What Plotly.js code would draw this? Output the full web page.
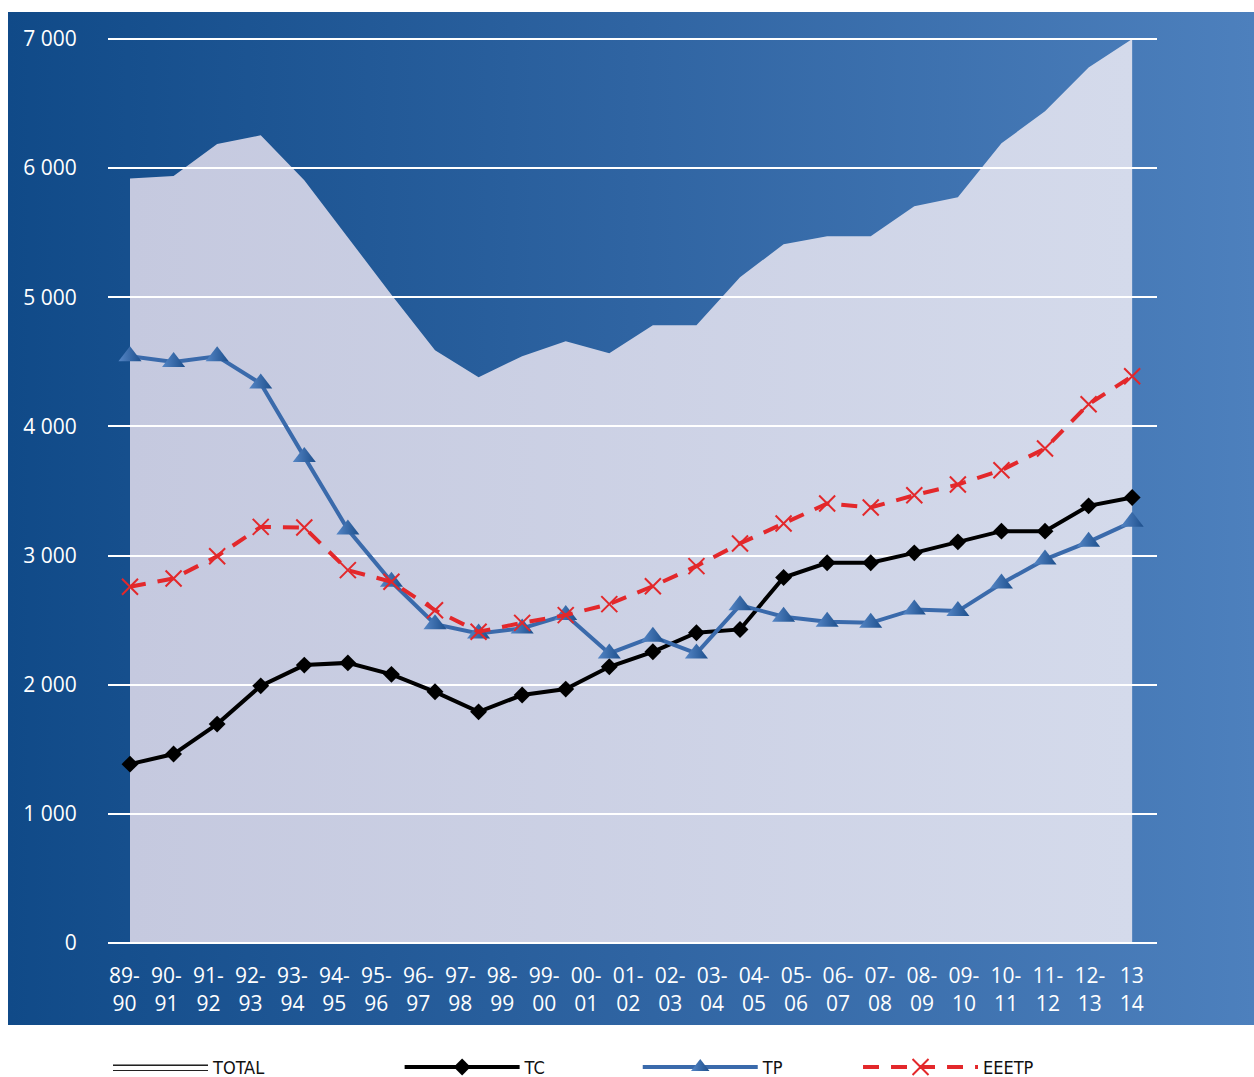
<!DOCTYPE html>
<html>
<head>
<meta charset="utf-8">
<script src="https://cdn.plot.ly/plotly-3.0.1.min.js"></script>
<style>
html,body{margin:0;padding:0;background:#ffffff;}
#bg{position:absolute;left:8px;top:12px;width:1246px;height:1013px;
  background:linear-gradient(to right,#104a88 0%,#2f64a2 50%,#4d80bd 100%);}
#chart{position:absolute;left:0;top:0;width:1254px;height:1077px;}
</style>
</head>
<body>
<div id="bg"></div>
<div id="chart"></div>
<script>
// Category (school year) tick labels
const yearLabels = ['89-<br>90','90-<br>91','91-<br>92','92-<br>93','93-<br>94','94-<br>95','95-<br>96',
  '96-<br>97','97-<br>98','98-<br>99','99-<br>00','00-<br>01','01-<br>02','02-<br>03','03-<br>04',
  '04-<br>05','05-<br>06','06-<br>07','07-<br>08','08-<br>09','09-<br>10','10-<br>11','11-<br>12',
  '12-<br>13','13<br>14'];

// Series values
const total = [5919, 5939, 6187, 6254, 5906, 5465, 5020, 4590, 4381, 4543, 4659, 4567,
  4783, 4783, 5155, 5410, 5472, 5472, 5704, 5774, 6192, 6440, 6780, 7000];
const tc = [1385, 1463, 1695, 1991, 2152, 2169, 2080, 1945, 1790, 1920, 1966, 2139,
  2255, 2402, 2428, 2830, 2944, 2944, 3021, 3106, 3189, 3189, 3385, 3450];
const tp = [4543, 4499, 4543, 4332, 3764, 3202, 2797, 2469, 2397, 2436, 2539, 2242,
  2371, 2242, 2616, 2526, 2487, 2479, 2583, 2570, 2784, 2970, 3106, 3261];
const eeetp = [2758, 2823, 2995, 3222, 3217, 2887, 2797, 2577, 2410, 2479, 2539, 2624,
  2763, 2918, 3094, 3248, 3403, 3372, 3467, 3550, 3661, 3829, 4172, 4389];

const seriesNames = ['TOTAL', 'TC', 'TP', 'EEETP'];

const idx = total.map((_, i) => i);
const labelIdx = yearLabels.map((_, i) => i);

const traces = [
  {
    type: 'scatter', x: idx, y: total, mode: 'lines', fill: 'tozeroy',
    line: {width: 0, color: 'rgba(0,0,0,0)'},
    fillcolor: '#cbd0e4',
    fillgradient: {type: 'horizontal', colorscale: [[0, '#c5c9df'], [1, '#d4daeb']]},
    showlegend: false, xaxis: 'x', yaxis: 'y', hoverinfo: 'skip'
  },
  {
    // carrier for the category label axis (no visible marks)
    type: 'scatter', x: labelIdx, y: labelIdx.map(() => null), mode: 'markers',
    marker: {opacity: 0}, showlegend: false, xaxis: 'x3', yaxis: 'y2', hoverinfo: 'skip'
  },
  {
    // legend entry for TOTAL: outlined white box
    type: 'scatter', x: [null], y: [null], name: seriesNames[0], mode: 'lines', fill: 'toself',
    fillcolor: '#ffffff',
    fillgradient: {type: 'vertical', start: 0, stop: 1,
      colorscale: [[0, '#222222'], [0.17, '#222222'], [0.2, '#ffffff'], [0.8, '#ffffff'], [0.83, '#222222'], [1, '#222222']]},
    line: {color: '#222222', width: 1},
    xaxis: 'x2', yaxis: 'y2', legend: 'legend'
  },
  {
    type: 'scatter', x: idx, y: tc, name: seriesNames[1], mode: 'lines+markers',
    line: {color: '#000000', width: 4},
    marker: {symbol: 'diamond', size: 13, color: '#000000'},
    xaxis: 'x2', yaxis: 'y2', legend: 'legend2'
  },
  {
    type: 'scatter', x: idx, y: tp, name: seriesNames[2], mode: 'lines+markers',
    line: {color: '#3a6aab', width: 4},
    marker: {symbol: 'triangle-up', size: 20, color: '#5586c6',
             gradient: {type: 'horizontal', color: '#1d4f8c'}},
    xaxis: 'x2', yaxis: 'y2', legend: 'legend3'
  },
  {
    type: 'scatter', x: idx, y: eeetp, name: seriesNames[3], mode: 'lines+markers',
    line: {color: '#e3282b', width: 4, dash: '16px,12px'},
    marker: {symbol: 'x-thin', size: 16, color: '#e3282b', line: {color: '#e3282b', width: 2}},
    xaxis: 'x2', yaxis: 'y2', legend: 'legend4'
  }
];

const legendBase = {
  orientation: 'h', yanchor: 'middle', y: -0.137, xanchor: 'left',
  bgcolor: 'rgba(0,0,0,0)', borderwidth: 0,
  font: {family: 'Liberation Sans Narrow, DejaVu Sans Condensed, sans-serif', size: 18, color: '#111111'},
  itemwidth: 95, itemclick: false, itemdoubleclick: false
};

const xr = [-0.505, 23.57];
const yr = [0, 7023];

const layout = {
  width: 1254, height: 1077,
  margin: {l: 108, r: 97, t: 36, b: 134, autoexpand: false},
  paper_bgcolor: 'rgba(0,0,0,0)', plot_bgcolor: 'rgba(0,0,0,0)',
  separators: ', ',
  hovermode: false,
  showlegend: true,
  font: {family: 'Open Sans, sans-serif', color: '#ffffff', size: 21},
  xaxis: {domain: [0, 1], anchor: 'y', range: xr, showgrid: false, zeroline: false, showticklabels: false, showline: false},
  yaxis: {domain: [0, 1], anchor: 'x', range: yr, showgrid: false, zeroline: false, showticklabels: false, showline: false},
  xaxis2: {domain: [0, 1], anchor: 'y2', range: xr, showgrid: false, zeroline: false, showticklabels: false, showline: false},
  yaxis2: {
    domain: [0, 1], anchor: 'x2', range: yr, tick0: 0, dtick: 1000, tickformat: ',d',
    gridcolor: '#ffffff', gridwidth: 2, zeroline: true, zerolinecolor: '#ffffff', zerolinewidth: 2,
    showline: false, ticks: 'outside', ticklen: 26, tickcolor: 'rgba(0,0,0,0)',
    tickfont: {family: 'Open Sans, sans-serif', size: 21, color: '#ffffff'}
  },
  xaxis3: {
    overlaying: 'x2', anchor: 'y2', range: [-0.393, 24.6], tickmode: 'array',
    tickvals: labelIdx, ticktext: yearLabels, showgrid: false, zeroline: false, showline: false,
    ticks: 'outside', ticklen: 14, tickcolor: 'rgba(0,0,0,0)',
    tickfont: {family: 'Open Sans, sans-serif', size: 21, color: '#ffffff'}
  },
  legend: Object.assign({}, legendBase, {x: 0.0}),
  legend2: Object.assign({}, legendBase, {x: 0.278, itemwidth: 115}),
  legend3: Object.assign({}, legendBase, {x: 0.505, itemwidth: 115}),
  legend4: Object.assign({}, legendBase, {x: 0.715, itemwidth: 115})
};

Plotly.newPlot('chart', traces, layout, {staticPlot: true, displayModeBar: false});
</script>
</body>
</html>
